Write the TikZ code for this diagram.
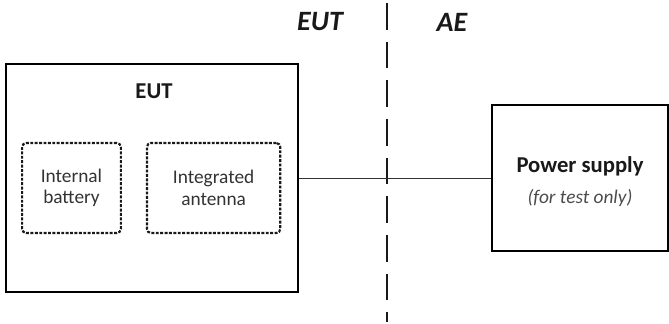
\documentclass[tikz,border=0pt]{standalone}
\usepackage{fontspec}
\setmainfont{Carlito}
\usetikzlibrary{positioning}
\tikzstyle{unit} = [rectangle, 
draw=black, 
line width=1.5pt, 
fill=white]
\tikzstyle{part} = [rectangle, 
draw=black!90, 
line width=1.6pt, 
dash pattern=on 2.2pt off 1.1pt, 
rounded corners=3pt, 
align=center, 
text=black!80, 
font=\fontsize{14.5}{16}\selectfont]
\tikzstyle{title} = [font=\fontsize{17}{20}\selectfont\bfseries, text=black!90]
\tikzstyle{side} = [font=\fontsize{21}{24}\selectfont\bfseries\itshape, text=black!90]
\tikzstyle{wire} = [line width=1pt, draw=black!80]
\tikzstyle{border} = [line width=1.6pt, draw=black!90, dash pattern=on 20pt off 9pt]

\begin{document}
\begin{tikzpicture}[x=0.75pt, y=-0.75pt]
    \useasboundingbox (0,0) rectangle (669,324);
    \node (eut) [unit, minimum width=219pt, minimum height=171pt] at (152,178.5) {};
    \node (euttitle) [title] at (154,91) {EUT};
    \node (battery) [part, minimum width=74pt, minimum height=67.5pt] at (71.5,188) {Internal\\battery};
    \node (antenna) [part, minimum width=100pt, minimum height=67.5pt, right=18pt of battery] {Integrated\\antenna};

    \node (psu) [unit, minimum width=132pt, minimum height=109.5pt] at (580,178.5) {};
    \node (psutitle) [title] at (580,166) {Power supply};
    \node (psunote) [font=\fontsize{14.5}{16}\selectfont\itshape, text=black!70, below=3pt of psutitle] {(for test only)};

    \coordinate (top) at (387,3);
    \coordinate (bottom) at (387,322);
    \node (sideeut) [side] at (320,22) {EUT};
    \node (sideae) [side] at (452,22) {AE};

    \draw [border] (top) -- (bottom);
    \draw [wire] (eut.east) -- (psu.west);
\end{tikzpicture}
\end{document}
